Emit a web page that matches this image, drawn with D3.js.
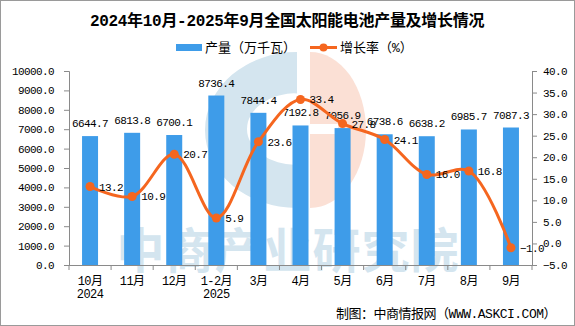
<!DOCTYPE html>
<html>
<head>
<meta charset="utf-8">
<script src="https://cdn.jsdelivr.net/npm/d3@7"></script>
<style>
  body { margin: 0; background: #fff; }
  text { font-family: "Liberation Mono", "Noto Sans CJK SC", monospace; }
</style>
</head>
<body>
<div id="chart"></div>
<script>
'use strict'
/* Datos */
var months = ['10月', '11月', '12月', '1-2月', '3月', '4月', '5月', '6月', '7月', '8月', '9月'];
var years = ['2024', '', '', '2025', '', '', '', '', '', '', ''];
var output = [6644.7, 6813.8, 6700.1, 8736.4, 7844.4, 7192.8, 7056.9, 6738.6, 6638.2, 6985.7, 7087.3];
var growth = [13.2, 10.9, 20.7, 5.9, 23.6, 33.4, 27.8, 24.1, 16.0, 16.8, -1.0];
var leftTicks = [0, 1000, 2000, 3000, 4000, 5000, 6000, 7000, 8000, 9000, 10000];
var rightTicks = [-5, 0, 5, 10, 15, 20, 25, 30, 35, 40];

var w = 575, h = 326;
var pLeft = 69, pRight = 532, pTop = 71, pBottom = 265;
var blue = '#3e9ce9', orange = '#f5661f', axisColor = '#8a8a8a';

var svg = d3.select('#chart').append('svg')
  .attr('width', w).attr('height', h);

// marco
svg.append('rect').attr('x', 0.5).attr('y', 0.5)
  .attr('width', w - 1).attr('height', h - 1)
  .attr('fill', '#fff').attr('stroke', '#9a9a9a');

// marca de agua (logo + texto)
var wm = svg.append('g');
wm.append('path')
  .attr('d', 'M297,52 A92,78 0 0 0 297,208 Z M297,93 A50,36 0 0 0 297,165 Z')
  .attr('fill', '#d4e5ef').attr('fill-rule', 'evenodd');
wm.append('path')
  .attr('d', 'M310,52 A56,78 0 0 1 310,208 Z')
  .attr('fill', '#fbe0d5');
wm.append('rect').attr('x', 310).attr('y', 124).attr('width', 28).attr('height', 10).attr('fill', '#fff');
wm.append('text')
  .attr('x', 288).attr('y', 268)
  .attr('text-anchor', 'middle')
  .style('font-family', '"Noto Sans CJK SC"')
  .style('font-weight', 'bold')
  .style('font-size', '48px')
  .style('letter-spacing', '1px')
  .attr('fill', '#d4e5ef')
  .text('中商产业研究院');

// escalas
var x = d3.scaleBand().domain(months).range([pLeft, pRight]);
var yL = d3.scaleLinear().domain([0, 10000]).range([pBottom, pTop]);
var yR = d3.scaleLinear().domain([-5, 40]).range([pBottom, pTop]);
var cx = function (d) { return x(d) + x.bandwidth() / 2; };
var barW = 16;

// barras
svg.selectAll('rect.bar')
  .data(output)
  .enter()
  .append('rect')
  .attr('class', 'bar')
  .attr('x', (d, i) => cx(months[i]) - barW / 2)
  .attr('y', d => yL(d))
  .attr('width', barW)
  .attr('height', d => pBottom - yL(d))
  .attr('fill', blue);

// ejes
var fmt = d3.format('.1f');
var axL = svg.append('g').attr('transform', 'translate(' + pLeft + ',0)')
  .call(d3.axisLeft(yL).tickValues(leftTicks).tickFormat(fmt).tickSize(5).tickPadding(10));
var axR = svg.append('g').attr('transform', 'translate(' + pRight + ',0)')
  .call(d3.axisRight(yR).tickValues(rightTicks).tickFormat(fmt).tickSize(5).tickPadding(6));
[axL, axR].forEach(function (g) {
  g.select('.domain').attr('stroke', axisColor);
  g.selectAll('.tick line').attr('stroke', axisColor);
  g.selectAll('.tick text')
    .attr('fill', '#000')
    .style('font-family', '"Liberation Mono", monospace')
    .style('font-size', '11px')
    .style('letter-spacing', '-0.6px');
});

// eje x
svg.append('line').attr('x1', pLeft).attr('x2', pRight)
  .attr('y1', pBottom + 0.5).attr('y2', pBottom + 0.5).attr('stroke', axisColor);
svg.selectAll('line.xt')
  .data(d3.range(months.length + 1))
  .enter().append('line')
  .attr('class', 'xt')
  .attr('x1', i => pLeft + i * x.bandwidth()).attr('x2', i => pLeft + i * x.bandwidth())
  .attr('y1', pBottom).attr('y2', pBottom + 5)
  .attr('stroke', axisColor);
svg.selectAll('text.xm')
  .data(months).enter().append('text')
  .attr('class', 'xm')
  .attr('x', d => cx(d)).attr('y', 285)
  .attr('text-anchor', 'middle')
  .style('font-size', '12px')
  .style('letter-spacing', '-0.6px')
  .text(d => d);
svg.selectAll('text.xy')
  .data(years).enter().append('text')
  .attr('class', 'xy')
  .attr('x', (d, i) => cx(months[i])).attr('y', 298)
  .attr('text-anchor', 'middle')
  .style('font-size', '12px')
  .style('letter-spacing', '-0.6px')
  .text(d => d);

// etiquetas de barras
svg.selectAll('text.bl')
  .data(output).enter().append('text')
  .attr('class', 'bl')
  .attr('x', (d, i) => cx(months[i]))
  .attr('y', d => yL(d) - 9)
  .attr('text-anchor', 'middle')
  .style('font-size', '11px')
  .style('letter-spacing', '-0.6px')
  .text(d => fmt(d));

// linea suavizada
var line = d3.line()
  .x((d, i) => cx(months[i]))
  .y(d => yR(d))
  .curve(d3.curveCatmullRom.alpha(0.5));
svg.append('path')
  .datum(growth)
  .attr('d', line)
  .attr('fill', 'none')
  .attr('stroke', orange)
  .attr('stroke-width', 3);
svg.selectAll('circle.pt')
  .data(growth).enter().append('circle')
  .attr('class', 'pt')
  .attr('cx', (d, i) => cx(months[i]))
  .attr('cy', d => yR(d))
  .attr('r', 4.5)
  .attr('fill', orange);
svg.selectAll('text.ll')
  .data(growth).enter().append('text')
  .attr('class', 'll')
  .attr('x', (d, i) => cx(months[i]) + 9)
  .attr('y', d => yR(d) + 4)
  .style('font-size', '11px')
  .style('letter-spacing', '-0.6px')
  .text(d => fmt(d));

// titulo
svg.append('text')
  .attr('x', 287).attr('y', 26)
  .attr('text-anchor', 'middle')
  .style('font-family', '"Liberation Mono", "Noto Sans CJK SC"')
  .style('font-weight', 'bold')
  .style('font-size', '16px')
  .style('letter-spacing', '-0.3px')
  .text('2024年10月-2025年9月全国太阳能电池产量及增长情况');

// leyenda
svg.append('rect').attr('x', 176).attr('y', 44).attr('width', 26).attr('height', 7).attr('fill', blue);
svg.append('text').attr('x', 205).attr('y', 52).style('font-size', '13px').text('产量（万千瓦）');
svg.append('line').attr('x1', 310).attr('x2', 337).attr('y1', 47.5).attr('y2', 47.5)
  .attr('stroke', orange).attr('stroke-width', 3);
svg.append('circle').attr('cx', 323.5).attr('cy', 47.5).attr('r', 4).attr('fill', orange);
svg.append('text').attr('x', 340).attr('y', 52).style('font-size', '13px').text('增长率（%）');

// fuente
svg.append('text')
  .attr('x', 556).attr('y', 318)
  .attr('text-anchor', 'end')
  .style('font-size', '13px')
  .style('letter-spacing', '-0.5px')
  .text('制图：中商情报网（WWW.ASKCI.COM）');
</script>
</body>
</html>
